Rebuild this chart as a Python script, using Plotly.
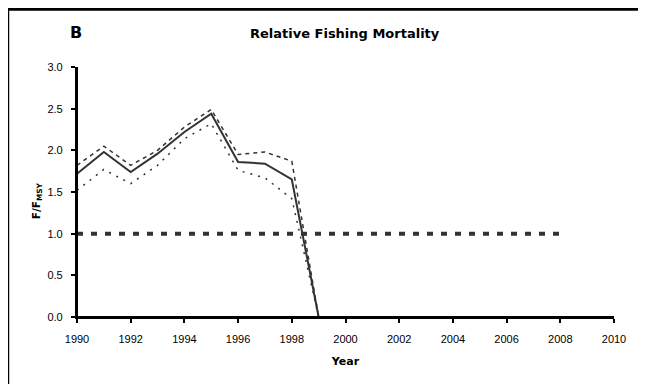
import plotly.graph_objects as go

years_main = [1990, 1991, 1992, 1993, 1994, 1995, 1996, 1997, 1998, 1999]
f_main = [1.72, 1.98, 1.74, 1.96, 2.22, 2.44, 1.86, 1.84, 1.65, 0.0]

years_ci = [1990, 1991, 1992, 1993, 1994, 1995, 1996, 1997, 1998, 1999, 2000, 2001, 2002, 2003, 2004, 2005, 2006, 2007, 2008]
f_upper = [1.82, 2.05, 1.82, 2.00, 2.28, 2.49, 1.95, 1.98, 1.87, 0.0, 0.0, 0.0, 0.0, 0.0, 0.0, 0.0, 0.0, 0.0, 0.0]
f_lower = [1.52, 1.77, 1.60, 1.82, 2.14, 2.32, 1.76, 1.67, 1.42, 0.0, 0.0, 0.0, 0.0, 0.0, 0.0, 0.0, 0.0, 0.0, 0.0]

ref_years = [1990, 2008]
ref_value = [1.0, 1.0]

x_ticks = [1990, 1992, 1994, 1996, 1998, 2000, 2002, 2004, 2006, 2008, 2010]
y_ticks = [0.0, 0.5, 1.0, 1.5, 2.0, 2.5, 3.0]

X_RANGE = [1990, 2010]
Y_RANGE = [0, 3.0]

TICK_FONT = "Liberation Sans, Arial, sans-serif"
BOLD_FONT = "DejaVu Sans, Liberation Sans, Arial, sans-serif"
DARK = "#333333"
NBSP = "\u00a0"

fig = go.Figure()
fig.add_trace(go.Scatter(x=ref_years, y=ref_value, mode="lines",
                         line=dict(color=DARK, width=4, dash="6px,8px"), showlegend=False))
fig.add_trace(go.Scatter(x=years_ci, y=f_upper, mode="lines",
                         line=dict(color=DARK, width=1.5, dash="4px,4px"), showlegend=False))
fig.add_trace(go.Scatter(x=years_ci, y=f_lower, mode="lines",
                         line=dict(color=DARK, width=1.5, dash="2px,6px"), showlegend=False))
fig.add_trace(go.Scatter(x=years_main, y=f_main, mode="lines",
                         line=dict(color=DARK, width=2), showlegend=False))

# outer border (partially cropped like the reference)
fig.add_shape(type="rect", xref="paper", yref="paper",
              x0=-0.129, x1=1.06, y0=-0.33, y1=1.231,
              line=dict(color="black", width=3), layer="below")
# axis lines (safety net, coincide with the axes' own lines)
fig.add_shape(type="line", xref="paper", yref="paper", x0=0, x1=1, y0=0, y1=0,
              line=dict(color="black", width=2))
fig.add_shape(type="line", xref="paper", yref="paper", x0=0, x1=0, y0=0, y1=1,
              line=dict(color="black", width=2))

fig.add_annotation(text="<b>B</b>", xref="paper", yref="paper", x=-0.002, y=1.138,
                   xanchor="center", yanchor="middle",
                   showarrow=False, font=dict(family=BOLD_FONT, size=16, color="black"))
fig.add_annotation(text="<b>Relative Fishing Mortality</b>", xref="paper", yref="paper",
                   x=0.499, y=1.136, xanchor="center", yanchor="middle",
                   showarrow=False, font=dict(family=BOLD_FONT, size=13, color="black"))
fig.add_annotation(text="<b>F/F<sub>MSY</sub></b>", xref="paper", yref="paper",
                   x=-0.074, y=0.464, textangle=-90, xanchor="center", yanchor="middle",
                   showarrow=False, font=dict(family=BOLD_FONT, size=10.5, color="black"))

# page body keeps its default 8px margin, so the figure is shifted by it
fig.update_layout(
    width=630, height=376,
    margin=dict(l=69, r=17, t=59, b=67),
    paper_bgcolor="white", plot_bgcolor="white",
    font=dict(family=TICK_FONT, size=11, color="black"),
    xaxis=dict(range=X_RANGE, tickvals=x_ticks, ticktext=[str(v) for v in x_ticks],
               showgrid=False, zeroline=False, showline=True, linecolor="black", linewidth=2,
               ticks="outside", ticklen=4, tickwidth=2, tickcolor="black",
               ticklabelstandoff=7,
               title=dict(text="<b>Year</b>", font=dict(family=BOLD_FONT, size=11), standoff=13)),
    yaxis=dict(range=Y_RANGE, tickvals=y_ticks,
               ticktext=[f"{v:.1f}" + NBSP * 2 for v in y_ticks],
               showgrid=False, zeroline=False, showline=True, linecolor="black", linewidth=2,
               ticks="outside", ticklen=4, tickwidth=2, tickcolor="black"),
)

fig.write_html("out.html", config={"displayModeBar": False})
